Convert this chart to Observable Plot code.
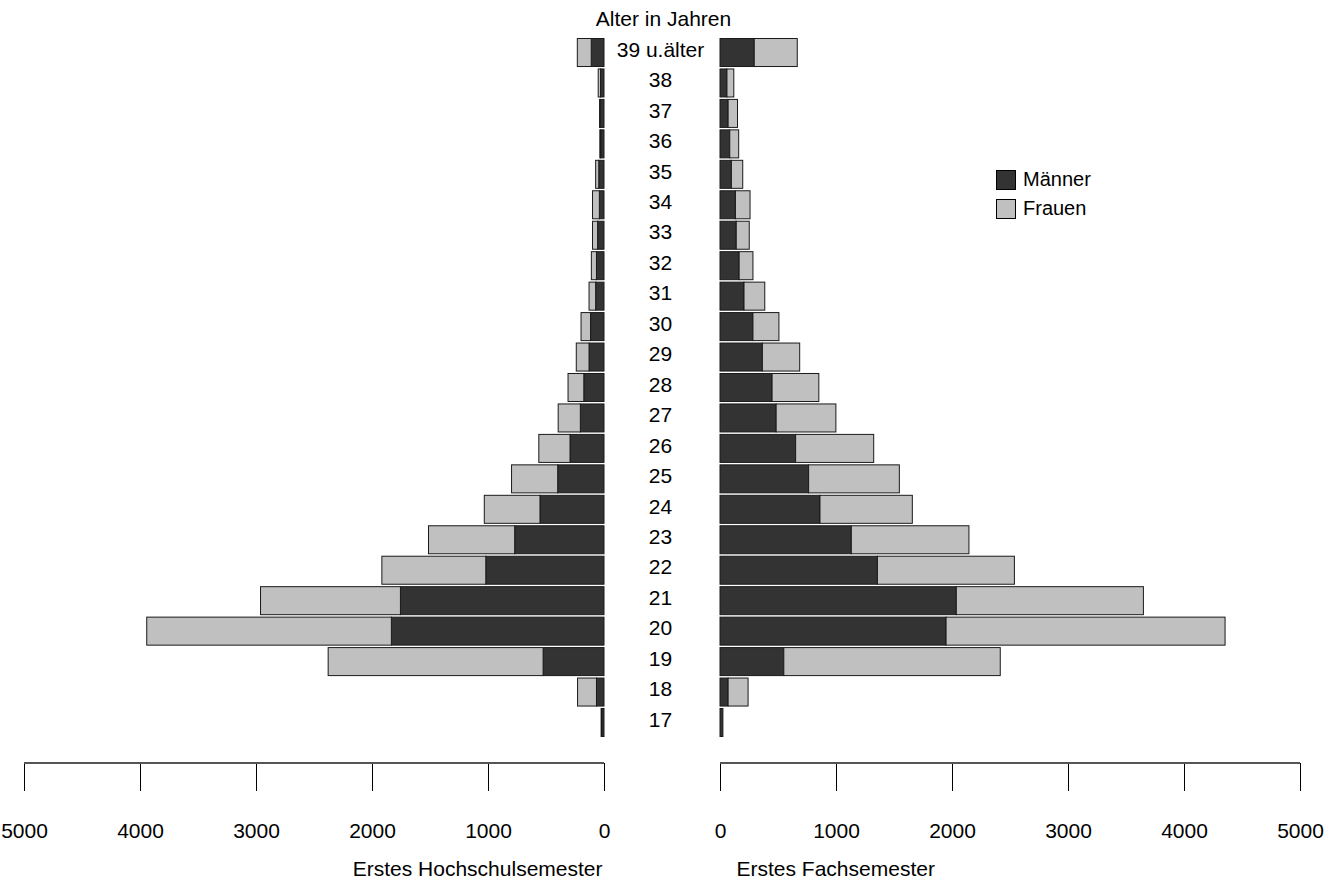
<!DOCTYPE html>
<html>
<head>
<meta charset="utf-8">
<script src="https://cdn.jsdelivr.net/npm/d3@7"></script>
<script src="https://cdn.jsdelivr.net/npm/@observablehq/plot@0.6"></script>
<style>
  body { margin: 0; background: #fff; font-family: "Liberation Sans", Arial, sans-serif; }
  #chart { position: relative; width: 1338px; height: 883px; overflow: hidden; }
  #left, #right { position: absolute; top: 0; }
  #left { left: 0; }
  #right { left: 620px; }
  .legend { position: absolute; left: 996px; top: 165px; font-size: 20px; line-height: 29px; color: #000; }
  .legend .item { display: flex; align-items: center; height: 29px; }
  .legend .sw { width: 18px; height: 18px; border: 1px solid #000; margin-right: 7px; box-sizing: content-box; }
</style>
</head>
<body>
<div id="chart">
  <div id="left"></div>
  <div id="right"></div>
  <div class="legend">
    <div class="item"><span class="sw" style="background:#333333"></span>Männer</div>
    <div class="item"><span class="sw" style="background:#c0c0c0"></span>Frauen</div>
  </div>
</div>
<script>
const ages = ["39 u.älter","38","37","36","35","34","33","32","31","30","29","28","27","26","25","24","23","22","21","20","19","18","17"];
const sexes = ["Männer","Frauen"];
const colors = ["#333333","#c0c0c0"];
const xTicks = [0,1000,2000,3000,4000,5000];

// Erstes Hochschulsemester
const hochMaenner = [110,30,35,28,45,40,55,65,72,116,129,174,204,293,399,552,770,1019,1755,1833,525,65,20];
const hochFrauen  = [120,20,3,8,27,59,44,44,57,82,110,136,191,269,398,480,743,896,1206,2109,1853,163,5];

// Erstes Fachsemester
const fachMaenner = [295,60,70,84,98,133,140,165,207,284,365,449,484,652,764,862,1132,1357,2037,1949,550,70,25];
const fachFrauen  = [371,59,81,77,98,126,112,119,179,224,322,403,515,673,782,796,1014,1181,1613,2405,1866,172,0];

function tidy(m, f) {
  return ages.flatMap((a, i) => [
    {age: a, sex: "Männer", n: m[i]},
    {age: a, sex: "Frauen", n: f[i]}
  ]);
}

const axisLine = (index, scales, values, dims) => {
  const y = dims.height - dims.marginBottom;
  const l = document.createElementNS("http://www.w3.org/2000/svg", "line");
  l.setAttribute("x1", scales.x(0));
  l.setAttribute("x2", scales.x(5000));
  l.setAttribute("y1", y);
  l.setAttribute("y2", y);
  l.setAttribute("stroke", "#555");
  l.setAttribute("stroke-width", 2);
  return l;
};

function panel({data, reverse, width, marginLeft, marginRight, extra}) {
  return Plot.plot({
    width, height: 883,
    marginTop: 0, marginBottom: 120, marginLeft, marginRight,
    style: {fontFamily: "'Liberation Sans', Arial, sans-serif", fontSize: "21px", color: "#000", background: "transparent", overflow: "visible"},
    x: {domain: [0, 5000], reverse},
    y: {domain: ages, range: [36.06, 738.94], padding: 0.08, round: false, axis: null},
    color: {domain: sexes, range: colors},
    marks: [
      Plot.barX(data, Plot.stackX({x: "n", y: "age", fill: "sex", z: "sex", order: sexes, stroke: "#1a1a1a", strokeWidth: 1})),
      Plot.axisX({anchor: "bottom", ticks: xTicks, tickFormat: d => String(d), tickSize: 28, tickPadding: 32, fontSize: 21, label: null}),
      axisLine,
      ...extra
    ]
  });
}

const left = panel({
  data: tidy(hochMaenner, hochFrauen),
  reverse: true, width: 620, marginLeft: 24, marginRight: 16,
  extra: [
    Plot.text(["Erstes Hochschulsemester"], {frameAnchor: "bottom-right", dx: -2, dy: 106, textAnchor: "end", lineAnchor: "middle", fontSize: 21})
  ]
});

const right = panel({
  data: tidy(fachMaenner, fachFrauen),
  reverse: false, width: 718, marginLeft: 100, marginRight: 38,
  extra: [
    Plot.text(ages, {y: d => d, text: d => d, frameAnchor: "left", dx: -60, dy: -3, textAnchor: "middle", lineAnchor: "middle", fontSize: 21}),
    Plot.text(["Alter in Jahren"], {frameAnchor: "top-left", dx: -57, dy: 19, textAnchor: "middle", lineAnchor: "middle", fontSize: 21}),
    Plot.text(["Erstes Fachsemester"], {frameAnchor: "bottom-left", dx: 16, dy: 106, textAnchor: "start", lineAnchor: "middle", fontSize: 21})
  ]
});

document.getElementById("left").appendChild(left);
document.getElementById("right").appendChild(right);
</script>
</body>
</html>
